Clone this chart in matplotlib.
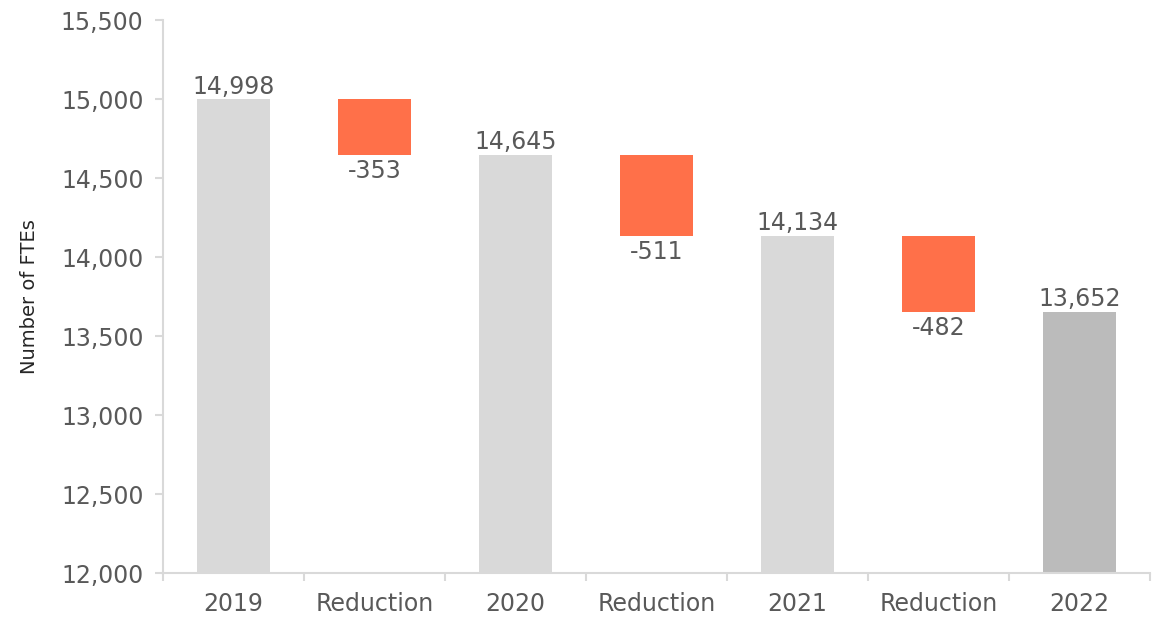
import matplotlib
matplotlib.use("Agg")
import matplotlib.pyplot as plt
from matplotlib.ticker import FuncFormatter

plt.rcParams['font.family'] = ['DejaVu Sans']

categories = ["2019", "Reduction", "2020", "Reduction", "2021", "Reduction", "2022"]
totals = [14998, 14645, 14134, 13652]
reductions = [-353, -511, -482]

text_col = "#595959"
axis_col = "#D9D9D9"
grey = "#D9D9D9"
grey_last = "#BBBBBB"
orange = "#FF7049"

fig = plt.figure(figsize=(11.6, 6.2), dpi=100)
ax = fig.add_axes([0.1405, 0.0758, 0.8509, 0.8919])

ymin = 12000
w = 0.52
for i, cat in enumerate(categories):
    if i % 2 == 0:
        v = totals[i // 2]
        col = grey_last if i == len(categories) - 1 else grey
        ax.bar(i, v - ymin, bottom=ymin, width=w, color=col)
        ax.text(i, v + 5, "{:,}".format(v), ha="center", va="bottom",
                fontsize=17, color=text_col)
    else:
        r = reductions[i // 2]
        top = totals[i // 2]
        ax.bar(i, r, bottom=top, width=w, color=orange)
        ax.text(i, top + r - 25, "{:,}".format(r), ha="center", va="top",
                fontsize=17, color=text_col)

ax.set_xlim(-0.5, len(categories) - 0.5)
ax.set_ylim(12000, 15500)
ax.set_yticks(range(12000, 15501, 500))
ax.yaxis.set_major_formatter(FuncFormatter(lambda v, p: "{:,}".format(int(v))))
ax.set_xticks(range(len(categories)))
ax.set_xticklabels(categories)
ax.set_xticks([x - 0.5 for x in range(len(categories) + 1)], minor=True)

for s in ["top", "right"]:
    ax.spines[s].set_visible(False)
for s in ["left", "bottom"]:
    ax.spines[s].set_color(axis_col)
    ax.spines[s].set_linewidth(1.5)

ax.tick_params(axis="x", which="major", length=0, pad=14, labelsize=17, labelcolor=text_col)
ax.tick_params(axis="x", which="minor", length=6, width=1.5, color=axis_col)
ax.tick_params(axis="y", length=6, width=1.5, color=axis_col, labelsize=17,
               labelcolor=text_col, pad=8)
ax.set_ylabel("Number of FTEs", fontsize=14, color="#262626", labelpad=16)

fig.savefig("out.png", dpi=100)
